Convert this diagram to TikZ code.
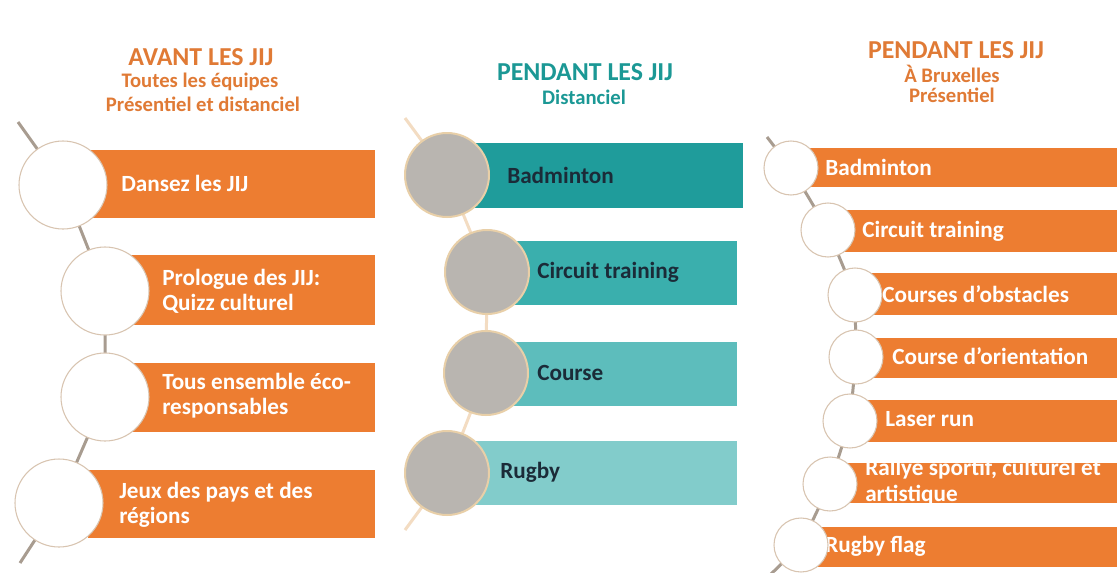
\documentclass[tikz,border=0pt]{standalone}
\usepackage{fontspec}
\setmainfont{Carlito}
\pgfdeclarelayer{bg}
\pgfsetlayers{bg,main}
\definecolor{orbar}{HTML}{ED7D31}
\definecolor{ortitle}{HTML}{E07A35}
\definecolor{tltitle}{HTML}{1B9895}
\definecolor{tealA}{HTML}{1F9C9B}
\definecolor{tealB}{HTML}{3AAFAD}
\definecolor{tealC}{HTML}{5DBDBC}
\definecolor{tealD}{HTML}{82CCCB}
\definecolor{navytxt}{HTML}{1B2B38}
\definecolor{spineL}{HTML}{A89C90}
\definecolor{spineM}{HTML}{F3DCC2}
\definecolor{ringL}{HTML}{D8C4B0}
\definecolor{ringM}{HTML}{E8CFA8}
\definecolor{discM}{HTML}{B9B5B0}
\tikzset{
  ttl/.style={font=\bfseries\fontsize{19.4}{22}\selectfont, inner sep=0pt},
  subttl/.style={font=\bfseries\fontsize{15.5}{18}\selectfont, inner sep=0pt},
  barbox/.style={rectangle, draw=none, inner sep=0pt},
  bartxt/.style={font=\bfseries\fontsize{17.4}{18.5}\selectfont, inner sep=0pt, anchor=west, align=left},
  bartxtR/.style={font=\bfseries\fontsize{17.4}{19.5}\selectfont, inner sep=0pt, anchor=west, align=left, text=white},
  ringLeft/.style={circle, draw=ringL, line width=0.8pt, fill=white, minimum size=66pt, inner sep=0pt},
  discMid/.style={circle, draw=ringM, line width=1.5pt, fill=discM, minimum size=63pt, inner sep=0pt},
  ringRight/.style={circle, draw=ringL, line width=0.8pt, fill=white, minimum size=40.5pt, inner sep=0pt},
  spine/.style={line width=2.25pt},
}
\begin{document}
\begin{tikzpicture}[x=0.75pt, y=-0.75pt]
\useasboundingbox (0,0) rectangle (1117,572);
\begin{pgfonlayer}{bg}
\fill[white] (0,0) rectangle (1117,572);
\end{pgfonlayer}

% ---------- Left column ----------
\node[ttl, text=ortitle] (lt1) at (201,57) {AVANT LES JIJ};
\node[subttl, text=ortitle] (lt2) at (200,82) {Toutes les équipes};
\node[subttl, text=ortitle] (lt3) at (203,104) {Présentiel et distanciel};

\node[barbox, fill=orbar, minimum width=215.25pt, minimum height=51pt] (lb1) at (231.5,184) {};
\node[barbox, fill=orbar, minimum width=183.75pt, minimum height=52.5pt] (lb2) at (252.5,290) {};
\node[barbox, fill=orbar, minimum width=183.75pt, minimum height=51.75pt] (lb3) at (252.5,397.5) {};
\node[barbox, fill=orbar, minimum width=215.25pt, minimum height=51pt] (lb4) at (231.5,504) {};

\node[bartxt, text=white] (ltx1) at (121,183) {Dansez les JIJ};
\node[bartxt, text=white] (ltx2) at (162,291) {Prologue des JIJ:\\Quizz culturel};
\node[bartxt, text=white] (ltx3) at (162,396) {Tous ensemble éco-\\responsables};
\node[bartxt, text=white] (ltx4) at (119,505) {Jeux des pays et des\\régions};

\node[ringLeft] (lc1) at (63,185) {};
\node[ringLeft] (lc2) at (105,291) {};
\node[ringLeft] (lc3) at (105,397) {};
\node[ringLeft] (lc4) at (59,503) {};
\coordinate (ls) at (18,122);
\coordinate (le) at (20,563);
\begin{pgfonlayer}{bg}
\draw[spine, draw=spineL] (ls) -- (lc1.center) -- (lc2.center) -- (lc3.center) -- (lc4.center) -- (le);
\end{pgfonlayer}

% ---------- Middle column ----------
\node[ttl, text=tltitle] (mt1) at (585,72) {PENDANT LES JIJ};
\node[subttl, text=tltitle] (mt2) at (584,97) {Distanciel};

\node[barbox, fill=tealA, minimum width=204.75pt, minimum height=48.75pt] (mb1) at (606.5,175.5) {};
\node[barbox, fill=tealB, minimum width=170.25pt, minimum height=48pt] (mb2) at (623.5,273) {};
\node[barbox, fill=tealC, minimum width=170.25pt, minimum height=48pt] (mb3) at (623.5,374) {};
\node[barbox, fill=tealD, minimum width=200.25pt, minimum height=48pt] (mb4) at (603.5,473) {};

\node[bartxt, text=navytxt] (mtx1) at (507,175) {Badminton};
\node[bartxt, text=navytxt] (mtx2) at (537,272) {Circuit training};
\node[bartxt, text=navytxt] (mtx3) at (537,373) {Course};
\node[bartxt, text=navytxt] (mtx4) at (500,472) {Rugby};

\node[discMid] (mc1) at (447,175) {};
\node[discMid] (mc2) at (487,272) {};
\node[discMid] (mc3) at (486,373) {};
\node[discMid] (mc4) at (447,473) {};
\coordinate (ms) at (405,118);
\coordinate (me) at (405,530);
\begin{pgfonlayer}{bg}
\draw[spine, draw=spineM] (ms) -- (mc1.center) -- (mc2.center) -- (mc3.center) -- (mc4.center) -- (me);
\end{pgfonlayer}

% ---------- Right column ----------
\node[ttl, text=ortitle] (rt1) at (956,50) {PENDANT LES JIJ};
\node[subttl, text=ortitle] (rt2) at (952,74) {À Bruxelles};
\node[subttl, text=ortitle] (rt3) at (952,95) {Présentiel};

\node[barbox, fill=orbar, minimum width=234pt, minimum height=29.25pt] (rb1) at (961,167.5) {};
\node[barbox, fill=orbar, minimum width=207.75pt, minimum height=31.5pt] (rb2) at (978.5,231) {};
\node[barbox, fill=orbar, minimum width=189pt, minimum height=31.5pt] (rb3) at (991,294) {};
\node[barbox, fill=orbar, minimum width=185.25pt, minimum height=30pt] (rb4) at (993.5,358) {};
\node[barbox, fill=orbar, minimum width=189pt, minimum height=31.5pt] (rb5) at (991,421) {};
\node[barbox, fill=orbar, minimum width=204pt, minimum height=30pt] (rb6) at (981,483) {};
\node[barbox, fill=orbar, minimum width=226.5pt, minimum height=30pt] (rb7) at (966,547) {};

\node[bartxtR] (rtx1) at (825,167) {Badminton};
\node[bartxtR] (rtx2) at (862,231) {Circuit training};
\node[bartxtR] (rtx3) at (882,294) {Courses d’obstacles};
\node[bartxtR] (rtx4) at (892,356) {Course d’orientation};
\node[bartxtR] (rtx5) at (885,419) {Laser run};
\node[bartxtR] (rtx6) at (865,482) {Rallye sportif, culturel et\\artistique};
\node[bartxtR] (rtx7) at (825,546) {Rugby flag};

\node[ringRight] (rc1) at (791,168) {};
\node[ringRight] (rc2) at (828,230) {};
\node[ringRight] (rc3) at (855,295) {};
\node[ringRight] (rc4) at (856,357) {};
\node[ringRight] (rc5) at (850,421) {};
\node[ringRight] (rc6) at (830,484) {};
\node[ringRight] (rc7) at (801,545) {};
\coordinate (rs) at (767,137);
\coordinate (re) at (771,574);
\begin{pgfonlayer}{bg}
\draw[spine, draw=spineL] (rs) -- (rc1.center) -- (rc2.center) -- (rc3.center) -- (rc4.center) -- (rc5.center) -- (rc6.center) -- (rc7.center) -- (re);
\end{pgfonlayer}
\end{tikzpicture}
\end{document}
